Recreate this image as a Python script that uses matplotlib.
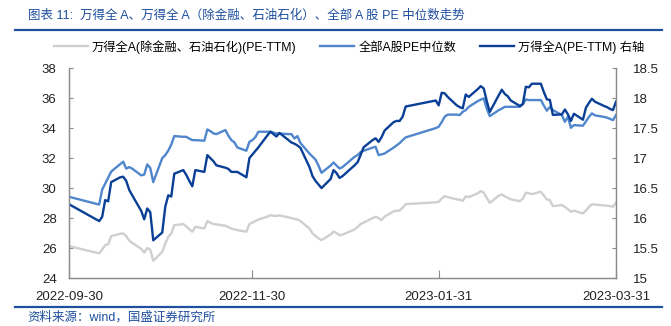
import pandas as pd
import matplotlib
matplotlib.use('Agg')
from matplotlib import pyplot as plt
from matplotlib.lines import Line2D
import matplotlib.dates as mdates
from matplotlib.ticker import FuncFormatter, MultipleLocator

plt.rcParams['font.family'] = ['Liberation Sans', 'Noto Sans CJK SC', 'DejaVu Sans']
plt.rcParams['axes.unicode_minus'] = False

#########################################################
### Data: A-share trading days, 2022-09-30 .. 2023-03-31

holidays = ['2022-10-03', '2022-10-04', '2022-10-05', '2022-10-06', '2022-10-07',
            '2023-01-02', '2023-01-23', '2023-01-24', '2023-01-25', '2023-01-26',
            '2023-01-27']
trade_dates = pd.bdate_range('2022-09-30', '2023-03-31', freq='C', holidays=holidays)

# 万得全A(除金融、石油石化) PE-TTM, left axis
pe_ex_fin = [
    26.13,
    25.65, 25.90, 26.20, 26.25, 26.80, 26.95, 26.98, 26.80, 26.50, 26.35, 25.95, 25.70,
    26.00, 25.90, 25.15, 25.75,
    26.30, 26.75, 26.98, 27.53, 27.60, 27.45, 27.25, 27.09, 27.42, 27.31, 27.80, 27.70,
    27.60, 27.58, 27.49, 27.40, 27.30, 27.25, 27.20, 27.09, 27.60, 27.70,
    27.80, 27.90, 28.10, 28.20, 28.15, 28.15, 28.18, 28.05, 28.00, 27.95, 27.91, 27.80,
    27.30, 26.98, 26.80, 26.65, 26.53, 26.90, 27.10, 27.00, 26.85, 26.90,
    27.24, 27.40, 27.60, 27.70, 28.00, 28.09, 28.00, 27.87, 28.10, 28.45, 28.49, 28.50,
    28.70, 28.93, 29.05, 29.09,
    29.30, 29.47, 29.40, 29.25, 29.22, 29.15, 29.45, 29.40, 29.65, 29.80, 29.70, 29.35,
    29.02, 29.50, 29.58, 29.45, 29.35, 29.25, 29.13, 29.30,
    29.69, 29.65, 29.60, 29.76, 29.50, 29.24, 29.20, 28.80, 28.87, 28.75, 28.60, 28.42,
    28.50, 28.31, 28.50, 28.75, 28.93, 28.90, 28.85, 28.82, 28.80, 28.76, 29.02,
]

# 全部A股PE中位数, left axis
pe_median = [
    29.42,
    28.90, 29.90, 30.30, 30.70, 31.10, 31.60, 31.76, 31.30, 31.40, 31.30, 30.85, 30.90,
    31.58, 31.35, 30.40, 32.00,
    32.20, 32.50, 32.90, 33.47, 33.42, 33.42, 33.30, 33.20, 33.20, 33.16, 33.91, 33.80,
    33.65, 33.60, 33.87, 33.50, 33.20, 33.05, 32.71, 32.49, 33.09, 33.20,
    33.40, 33.76, 33.76, 33.76, 33.70, 33.64, 33.64, 33.60, 33.60, 33.31, 33.47, 33.00,
    32.30, 32.10, 31.90, 31.50, 31.02, 31.50, 31.71, 31.50, 31.31, 31.40,
    32.09, 32.20, 32.40, 32.49, 32.70, 32.76, 32.20, 32.25, 32.31, 32.70, 32.85, 33.00,
    33.20, 33.38, 34.00, 34.09,
    34.40, 34.76, 34.90, 34.90, 34.87, 35.09, 35.20, 35.42, 35.80, 35.90, 35.98, 35.30,
    34.80, 35.20, 35.30, 35.42, 35.42, 35.42, 35.42, 35.60,
    35.91, 35.87, 35.87, 35.87, 35.50, 35.16, 35.42, 35.20, 34.87, 34.42, 34.76, 34.02,
    34.20, 34.16, 34.45, 34.75, 34.98, 34.85, 34.75, 34.70, 34.62, 34.53, 34.87,
]

# 万得全A PE-TTM, right axis
pe_wind_a = [
    16.23,
    15.95, 16.02, 16.30, 16.28, 16.60, 16.68, 16.69, 16.62, 16.47, 16.38, 16.12, 15.98,
    16.16, 16.10, 15.63, 15.76,
    16.19, 16.38, 16.36, 16.74, 16.80, 16.72, 16.62, 16.53, 16.80, 16.77, 17.05, 17.00,
    16.95, 16.88, 16.84, 16.82, 16.77, 16.77, 16.77, 16.68, 17.00, 17.06,
    17.12, 17.18, 17.38, 17.44, 17.40, 17.36, 17.42, 17.30, 17.26, 17.24, 17.21, 17.17,
    16.85, 16.70, 16.62, 16.56, 16.50, 16.65, 16.80, 16.75, 16.67, 16.70,
    16.88, 16.93, 17.05, 17.18, 17.30, 17.33, 17.27, 17.35, 17.46, 17.60, 17.62, 17.62,
    17.69, 17.86, 17.96, 17.88,
    18.09, 18.08, 18.02, 17.88, 17.85, 17.83, 18.06, 18.02, 18.15, 18.20, 18.16, 17.95,
    17.77, 18.05, 18.14, 18.07, 18.03, 17.96, 17.87, 17.90,
    18.19, 18.18, 18.24, 18.24, 18.10, 17.98, 17.97, 17.72, 17.73, 17.81, 17.73, 17.62,
    17.74, 17.64, 17.84, 17.92, 17.99, 17.94, 17.87, 17.85, 17.82, 17.80, 17.94,
]

labels = ['万得全A(除金融、石油石化)(PE-TTM)', '全部A股PE中位数', '万得全A(PE-TTM) 右轴']
colors = ['#cfcfcf', '#4f86cc', '#0a3f96']
xticks = ['2022-09-30', '2022-11-30', '2023-01-31', '2023-03-31']

title = '图表 11:  万得全 A、万得全 A（除金融、石油石化）、全部 A 股 PE 中位数走势'
source = '资料来源：wind，国盛证券研究所'
blue = '#1f4f9f'

#########################################################
### Plot

fig = plt.figure(figsize=(6.71, 3.26), dpi=100)
ax = fig.add_axes([0.103, 0.147, 0.815, 0.644])
ax2 = ax.twinx()

lw = 1.7
ax.plot(trade_dates, pe_ex_fin, color=colors[0], lw=lw)
ax.plot(trade_dates, pe_median, color=colors[1], lw=lw)
ax2.plot(trade_dates, pe_wind_a, color=colors[2], lw=lw)

ax.set_ylim(24, 38)
ax.yaxis.set_major_locator(MultipleLocator(2))
ax2.set_ylim(15, 18.5)
ax2.yaxis.set_major_locator(MultipleLocator(0.5))
ax2.yaxis.set_major_formatter(FuncFormatter(lambda v, p: '{:g}'.format(v)))

ax.set_xlim(pd.Timestamp(xticks[0]), pd.Timestamp(xticks[-1]))
ax.set_xticks([pd.Timestamp(d) for d in xticks])
ax.xaxis.set_major_formatter(mdates.DateFormatter('%Y-%m-%d'))

spine_c = '#8c8c8c'
for a in (ax, ax2):
    for s in a.spines.values():
        s.set_color(spine_c)
        s.set_linewidth(0.9)
    a.spines['top'].set_visible(False)
ax.tick_params(axis='y', direction='in', length=3, color=spine_c, labelsize=9.5, pad=9, labelcolor='#222222')
ax.tick_params(axis='x', direction='in', length=6, color=spine_c, labelsize=9.5, pad=9, labelcolor='#222222')
ax2.tick_params(axis='y', direction='in', length=3, color=spine_c, labelsize=9.5, pad=12, labelcolor='#222222')

handles = [Line2D([], [], color=c, lw=lw) for c in colors]
fig.legend(handles, labels, loc='center', bbox_to_anchor=(0.52, 0.856), ncol=3,
           frameon=False, fontsize=8.8, handlelength=2.8, handletextpad=0.35,
           columnspacing=1.9)

fig.text(0.041, 0.952, title, color=blue, fontsize=9, va='center', ha='left')
fig.text(0.041, 0.025, source, color=blue, fontsize=9, va='center', ha='left')
fig.add_artist(Line2D([0.022, 0.987], [0.908, 0.908], color=blue, lw=1.6))
fig.add_artist(Line2D([0.022, 0.987], [0.058, 0.058], color=blue, lw=1.6))

fig.savefig('out.png', dpi=100)
